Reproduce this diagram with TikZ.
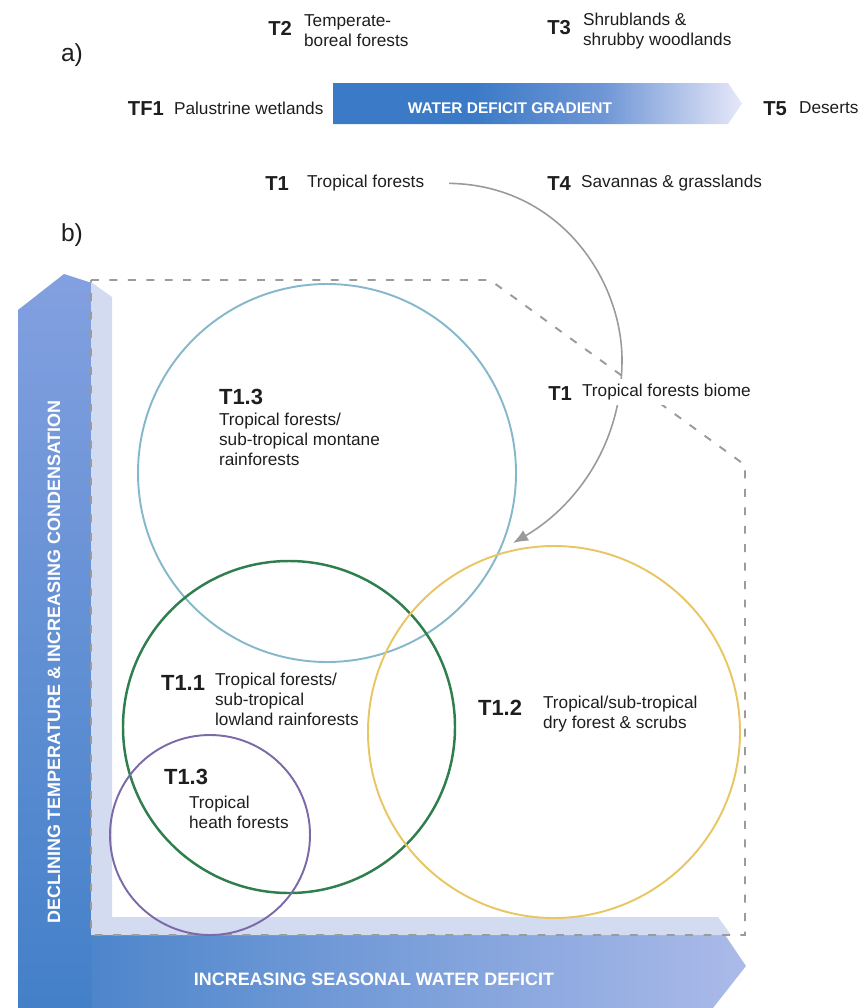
\documentclass[tikz,border=0pt]{standalone}
\usepackage{fontspec}
\setmainfont{Liberation Sans}
\usepackage{tikz}
\usetikzlibrary{arrows.meta,positioning}
\definecolor{Ink}{HTML}{1E1E1E}
\definecolor{Dash}{HTML}{9B9B9B}
\definecolor{Pointer}{HTML}{9A9A9A}
\definecolor{Montane}{HTML}{86B8CB}
\definecolor{Lowland}{HTML}{2F7E4E}
\definecolor{Dry}{HTML}{E8C663}
\definecolor{Heath}{HTML}{7C6AA8}
\definecolor{BarBlue}{HTML}{3B7AC6}
\definecolor{BarMid}{HTML}{6F96D6}
\definecolor{BarPale}{HTML}{E6E8F8}
\definecolor{AxisBlue}{HTML}{4380C8}
\definecolor{AxisTop}{HTML}{83A0E0}
\definecolor{AxisPale}{HTML}{ABBAE9}
\definecolor{Strip}{HTML}{D3DBF1}
\pgfdeclarehorizontalshading{gradbar}{100bp}{color(0bp)=(BarBlue); color(25bp)=(BarBlue); color(42bp)=(BarBlue); color(58bp)=(BarMid); color(75bp)=(BarPale); color(100bp)=(BarPale)}
\tikzset{
  panellabel/.style={font=\fontsize{14}{15}\selectfont, text=Ink, inner sep=1pt},
  biomecode/.style={font=\fontsize{11.5}{12}\selectfont\bfseries, text=Ink, inner sep=1pt},
  unitcode/.style={font=\fontsize{12.5}{13}\selectfont\bfseries, text=Ink, inner sep=1pt},
  biomename/.style={font=\fontsize{9.8}{11.3}\selectfont, text=Ink, align=left, inner sep=1pt},
  axistext/.style={font=\fontsize{10.2}{11}\selectfont\bfseries, text=white, inner sep=1pt},
  bartext/.style={font=\fontsize{8.8}{10}\selectfont\bfseries, text=white, inner sep=1pt},
  unitring/.style={line width=1.1pt},
  biomeedge/.style={draw=Dash, line width=1.1pt, dash pattern=on 4.5pt off 6pt},
  pointer/.style={draw=Pointer, line width=0.9pt, -{Latex[length=3mm,width=2.4mm]}},
}
\begin{document}
\begin{tikzpicture}[x=0.02cm,y=-0.02cm]
\path[use as bounding box] (0,0) rectangle (863,1008);

% a) water deficit gradient
\node[panellabel] (pa) at (72,55) {a)};
\shade[shading=gradbar] (333,83) -- (728,83) -- (742,103.5) -- (728,124) -- (333,124) -- cycle;
\node[bartext] (gradient) at (510,108) {WATER DEFICIT GRADIENT};

\node[biomecode,anchor=east] (t2) at (294,28) {T2};
\node[biomename,anchor=west] (t2name) at (302,31) {Temperate-\\boreal forests};
\node[biomecode,anchor=east] (t3) at (573,28) {T3};
\node[biomename,anchor=west] (t3name) at (581,31) {Shrublands \&\\shrubby woodlands};
\node[biomecode,anchor=east] (tf1) at (166,109) {TF1};
\node[biomename,anchor=west] (tf1name) at (172,108) {Palustrine wetlands};
\node[biomecode,anchor=east] (t5) at (789,109) {T5};
\node[biomename,anchor=west] (t5name) at (797,108) {Deserts};
\node[biomecode,anchor=east] (t1) at (291,184) {T1};
\node[biomename,anchor=west] (t1name) at (305,183) {Tropical forests};
\node[biomecode,anchor=east] (t4) at (573,184) {T4};
\node[biomename,anchor=west] (t4name) at (579,183) {Savannas \& grasslands};

% b) axes
\node[panellabel] (pb) at (72,235) {b)};
\shade[left color=AxisBlue,right color=AxisPale] (18,935) -- (725,935) -- (746,966) -- (713,1008) -- (18,1008) -- cycle;
\shade[bottom color=AxisBlue,top color=AxisTop] (18,1008) -- (18,310) -- (64,274) -- (92,283) -- (92,1008) -- cycle;
\fill[Strip] (91,282) -- (112,297) -- (112,917) -- (718,917) -- (731,935) -- (91,935) -- cycle;
\node[axistext,rotate=90] (coolaxis) at (54,662) {DECLINING TEMPERATURE \& INCREASING CONDENSATION};
\node[axistext] (dryaxis) at (374,979) {INCREASING SEASONAL WATER DEFICIT};

% biome outline and functional groups
\draw[biomeedge] (91,280) -- (490,280) -- (745,465) -- (745,935) -- (91,935) -- cycle;
\draw[unitring,draw=Montane] (327,473) circle[radius=189];
\draw[unitring,draw=Lowland,line width=1.4pt] (289,727) circle[radius=166];
\draw[unitring,draw=Dry] (554,732) circle[radius=186];
\draw[unitring,draw=Heath] (210,835) circle[radius=100];

\coordinate (biometip) at (513,543);
\draw[pointer,shorten <=13pt] (t1name.east) .. controls (560,185) and (622,280) .. (622,360) .. controls (622,450) and (570,510) .. (biometip);

\node[biomecode,anchor=east,fill=white] (t1b) at (574,394) {T1};
\node[biomename,anchor=west,fill=white,inner ysep=3pt] (t1bname) at (580,392) {Tropical forests biome};

\node[unitcode,anchor=west] (t13a) at (217,397) {T1.3};
\node[biomename,anchor=north west] (t13aname) at (217,411) {Tropical forests/\\sub-tropical montane\\rainforests};
\node[unitcode,anchor=west] (t11) at (159,683) {T1.1};
\node[biomename,anchor=north west] (t11name) at (213,671) {Tropical forests/\\sub-tropical\\lowland rainforests};
\node[unitcode,anchor=west] (t12) at (476,708) {T1.2};
\node[biomename,anchor=north west] (t12name) at (541,694) {Tropical/sub-tropical\\dry forest \& scrubs};
\node[unitcode,anchor=west] (t13b) at (162,777) {T1.3};
\node[biomename,anchor=north west] (t13bname) at (187,794) {Tropical\\heath forests};
\end{tikzpicture}
\end{document}
